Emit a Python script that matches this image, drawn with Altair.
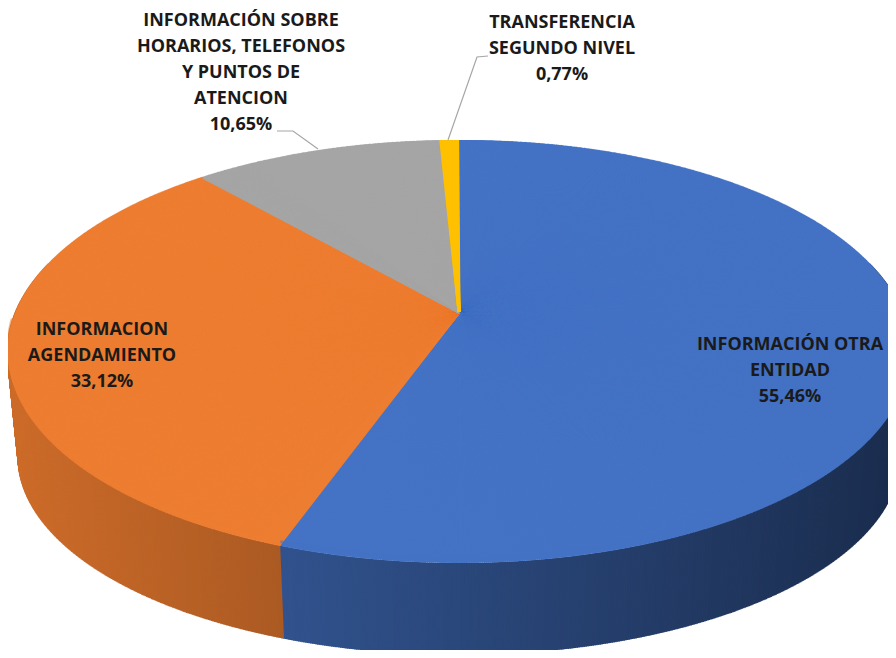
import numpy as np
import pandas as pd
import altair as alt

# ---- data ----
categories = [
    "INFORMACIÓN OTRA ENTIDAD",
    "INFORMACION AGENDAMIENTO",
    "INFORMACIÓN SOBRE HORARIOS, TELEFONOS Y PUNTOS DE ATENCION",
    "TRANSFERENCIA SEGUNDO NIVEL",
]
values = [55.46, 33.12, 10.65, 0.77]
value_labels = ["55,46%", "33,12%", "10,65%", "0,77%"]
label_lines = [
    ["INFORMACIÓN OTRA", "ENTIDAD"],
    ["INFORMACION", "AGENDAMIENTO"],
    ["INFORMACIÓN SOBRE", "HORARIOS, TELEFONOS", "Y PUNTOS DE", "ATENCION"],
    ["TRANSFERENCIA", "SEGUNDO NIVEL"],
]
colors = ["#4472C4", "#ED7D31", "#A5A5A5", "#FFC000"]
rim_colors = ["#5B8AD8", "#FF9A4E", "#BDBDBD", "#FFD24D"]

# ---- 3D pie geometry (perspective projection of a tilted disc) ----
CX, CY = 459.0, 312.0          # projected centre of the top face
TB, TA, TP = 443.0, 204.1, 0.1867   # top face
BB, BA, BP, BV = 432.0, 190.8, 0.19, 107.4  # bottom face
STEP = 0.2

total = sum(values)
bounds = np.cumsum([0] + [v / total * 360.0 for v in values])


def cat_of(s):
    for i in range(len(values)):
        if bounds[i] <= s < bounds[i + 1]:
            return i
    return len(values) - 1


def hex_scale(h, f):
    r, g, b = int(h[1:3], 16), int(h[3:5], 16), int(h[5:7], 16)
    return "#%02x%02x%02x" % tuple(int(max(0, min(255, c * f))) for c in (r, g, b))


top_rows, side_rows, rim_rows = [], [], []
for k, s in enumerate(np.arange(0, 360, STEP)):
    i = cat_of(s + STEP / 2)
    phi = np.radians(90.0 - s)
    X, Y = np.cos(phi), np.sin(phi)
    d = 1 + TP * Y
    tx, ty = CX + TB * X / d, CY - TA * Y / d
    d2 = 1 + BP * Y
    bx, by = CX + BB * X / d2, CY + BV - BA * Y / d2
    top_rows.append({"cat": categories[i], "x": CX, "y": CY, "x2": tx, "y2": ty})
    if Y < 0.25:
        f = float(np.clip(0.86 - 0.00052 * (tx - 20), 0.36, 0.9))
        side_rows.append({"cat": categories[i], "x": tx, "y": ty, "x2": bx, "y2": by,
                          "shade": hex_scale(colors[i], f)})
    if Y < -0.05:
        rim_rows.append({"cat": categories[i], "k": k, "x": tx, "y": ty - 4})

top_df = pd.DataFrame(top_rows)
side_df = pd.DataFrame(side_rows)
rim_df = pd.DataFrame(rim_rows)

# labels: position of the first line of each label block (page coordinates)
label_pos = [(790, 345), (102, 330), (241, 21), (562, 23)]
lab_df = pd.DataFrame({
    "text": ["\n".join(l + [v]) for l, v in zip(label_lines, value_labels)],
    "x": [p[0] for p in label_pos],
    "y": [p[1] for p in label_pos],
})

leader_df = pd.DataFrame({
    "grp": ["g", "g", "g", "y", "y", "y"],
    "ord": [0, 1, 2, 0, 1, 2],
    "x": [277, 293, 318, 488, 477, 448],
    "y": [131, 131, 149, 56, 57, 140],
})

xs = alt.Scale(domain=[8, 888])
ys = alt.Scale(domain=[8, 650], reverse=True)

side = alt.Chart(side_df).mark_rule(strokeWidth=3, strokeCap="butt").encode(
    x=alt.X("x:Q", scale=xs, axis=None),
    y=alt.Y("y:Q", scale=ys, axis=None),
    x2="x2:Q", y2="y2:Q",
    color=alt.Color("shade:N", scale=None),
)

top = alt.Chart(top_df).mark_rule(strokeWidth=3, strokeCap="butt").encode(
    x=alt.X("x:Q", scale=xs, axis=None),
    y=alt.Y("y:Q", scale=ys, axis=None),
    x2="x2:Q", y2="y2:Q",
    color=alt.Color("cat:N", scale=alt.Scale(domain=categories, range=colors), legend=None),
)

rim = alt.Chart(rim_df).mark_line(strokeWidth=3, opacity=0.55).encode(
    x=alt.X("x:Q", scale=xs, axis=None),
    y=alt.Y("y:Q", scale=ys, axis=None),
    detail="cat:N",
    order="k:Q",
    color=alt.Color("cat:N", scale=alt.Scale(domain=categories, range=rim_colors), legend=None),
)

leaders = alt.Chart(leader_df).mark_line(color="#A6A6A6", strokeWidth=1.2).encode(
    x=alt.X("x:Q", scale=xs, axis=None),
    y=alt.Y("y:Q", scale=ys, axis=None),
    detail="grp:N",
    order="ord:Q",
)

labels = alt.Chart(lab_df).mark_text(
    font="Open Sans", fontWeight="bold", fontSize=18, lineBreak="\n",
    lineHeight=26, align="center", baseline="middle", color="#1a1a1a",
).encode(
    x=alt.X("x:Q", scale=xs, axis=None),
    y=alt.Y("y:Q", scale=ys, axis=None),
    text="text:N",
)

chart = alt.layer(side, top, rim, leaders, labels).properties(
    width=880, height=642, padding=0,
    autosize=alt.AutoSizeParams(type="none"),
).configure_view(stroke=None)

chart.save("out.html", embed_options={"renderer": "svg", "actions": False})
